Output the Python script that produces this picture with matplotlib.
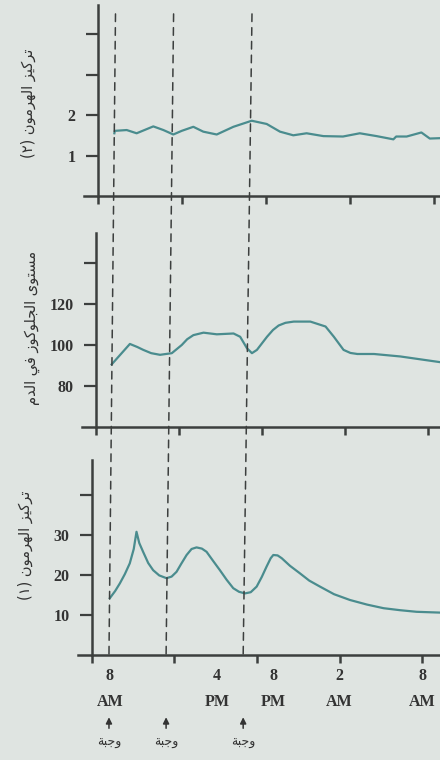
import matplotlib
matplotlib.use('Agg')
import matplotlib.pyplot as plt
from matplotlib.patches import ConnectionPatch

# === Data (hours after 8 AM) ===
h2_x = [1.17, 1.2, 2.05, 2.76, 3.95, 4.67, 5.38, 5.98, 6.81, 7.52, 8.48, 9.67, 10.98,
        12.05, 13.0, 13.95, 14.9, 16.1, 17.5, 18.7, 19.9, 21.1, 21.3, 22.05, 23.1, 23.7, 24.5]
h2_y = [1.55, 1.61, 1.63, 1.55, 1.72, 1.63, 1.52, 1.61, 1.71, 1.59, 1.52, 1.71, 1.86,
        1.78, 1.59, 1.50, 1.55, 1.48, 1.47, 1.55, 1.48, 1.40, 1.47, 1.47, 1.57, 1.42, 1.43]

glu_x = [1.14, 2.46, 3.0, 3.43, 4.0, 4.64, 5.49, 6.21, 6.6, 7.05, 7.78, 8.74, 9.95, 10.43,
         10.92, 11.28, 11.64, 12.37, 12.8, 13.21, 13.7, 14.3, 15.5, 16.6, 17.2, 17.9, 18.4,
         18.9, 20.1, 22.0, 24.9]
glu_y = [90.5, 100.5, 99.0, 97.6, 96.0, 95.2, 96.0, 100.0, 102.8, 104.8, 106.0, 105.2, 105.6,
         104.0, 98.4, 96.0, 97.6, 104.0, 107.3, 109.5, 110.8, 111.4, 111.4, 109.0, 104.0, 97.6,
         96.1, 95.6, 95.6, 94.4, 91.6]

h1_x = [1.31, 1.7, 2.04, 2.4, 2.76, 3.05, 3.25, 3.45, 3.73, 4.1, 4.46, 4.9, 5.43, 5.8, 6.16,
        6.5, 6.89, 7.25, 7.61, 8.0, 8.34, 8.8, 9.31, 9.8, 10.28, 10.7, 11.13, 11.55, 11.98,
        12.35, 12.7, 13.0, 13.19, 13.5, 13.8, 14.4, 15.13, 15.8, 16.58, 17.6, 18.76, 20.0,
        21.2, 22.4, 23.6, 25.3]
h1_y = [14.2, 16.0, 17.9, 20.2, 22.9, 26.5, 30.8, 28.0, 25.8, 23.0, 21.2, 19.9, 19.2, 19.6,
        20.8, 22.8, 25.0, 26.5, 26.9, 26.6, 25.8, 23.6, 21.2, 18.8, 16.7, 15.8, 15.4, 15.7,
        17.1, 19.5, 22.1, 24.2, 25.0, 24.9, 24.2, 22.3, 20.4, 18.6, 17.1, 15.2, 13.75, 12.6,
        11.7, 11.2, 10.8, 10.6]

meals = [1.25, 5.4, 11.0]
time_ticks = [0, 6, 12, 18, 24]
time_label_pos = [1.3, 9.1, 13.2, 18.0, 24.0]
time_labels = ['8\nAM', '4\nPM', '8\nPM', '2\nAM', '8\nAM']

# --- minimal Arabic shaping (matplotlib has no shaping / bidi) ---
FORMS = {
    'ا': (0xFE8D, 0xFE8E), 'ب': (0xFE8F, 0xFE90, 0xFE91, 0xFE92), 'ة': (0xFE93, 0xFE94),
    'ت': (0xFE95, 0xFE96, 0xFE97, 0xFE98), 'ج': (0xFE9D, 0xFE9E, 0xFE9F, 0xFEA0),
    'د': (0xFEA9, 0xFEAA), 'ر': (0xFEAD, 0xFEAE), 'ز': (0xFEAF, 0xFEB0),
    'س': (0xFEB1, 0xFEB2, 0xFEB3, 0xFEB4), 'ف': (0xFED1, 0xFED2, 0xFED3, 0xFED4),
    'ك': (0xFED9, 0xFEDA, 0xFEDB, 0xFEDC), 'ل': (0xFEDD, 0xFEDE, 0xFEDF, 0xFEE0),
    'م': (0xFEE1, 0xFEE2, 0xFEE3, 0xFEE4), 'ن': (0xFEE5, 0xFEE6, 0xFEE7, 0xFEE8),
    'ه': (0xFEE9, 0xFEEA, 0xFEEB, 0xFEEC), 'و': (0xFEED, 0xFEEE),
    'ى': (0xFEEF, 0xFEF0, 0xFBE8, 0xFBE9), 'ي': (0xFEF1, 0xFEF2, 0xFEF3, 0xFEF4),
}


def ar(text):
    out = []
    for i, c in enumerate(text):
        if c not in FORMS:
            out.append(c)
            continue
        prev = text[i - 1] if i > 0 else ''
        nxt = text[i + 1] if i + 1 < len(text) else ''
        jp = prev in FORMS and len(FORMS[prev]) == 4
        jn = nxt in FORMS and len(FORMS[c]) == 4
        f = FORMS[c]
        if jp and jn:
            out.append(chr(f[3]))
        elif jp:
            out.append(chr(f[1]))
        elif jn:
            out.append(chr(f[2]))
        else:
            out.append(chr(f[0]))
    s = ''.join(reversed(out))
    return s.replace('(', '\0').replace(')', '(').replace('\0', ')')


bg = '#dfe4e1'
curve_c = '#4a8c8e'
axis_c = '#3c3f3e'
tick_font = dict(family='Liberation Serif', weight='bold', size=11.5, color='#333')

fig = plt.figure(figsize=(4.4, 7.6), dpi=100, facecolor=bg)
W, H = 440, 760

ax_top = fig.add_axes([84 / W, (H - 196) / H, 356 / W, 191 / H])
ax_mid = fig.add_axes([82 / W, (H - 427) / H, 358 / W, 194 / H])
ax_bot = fig.add_axes([78 / W, (H - 655) / H, 362 / W, 195 / H])

ax_top.plot(h2_x, h2_y, color=curve_c, lw=1.6)
ax_top.set_xlim(-1, 24.43)
ax_top.set_ylim(0, 4.72)
ax_top.set_yticks([1, 2, 3, 4])
ax_top.set_yticklabels(['1', '2', '', ''])

ax_mid.plot(glu_x, glu_y, color=curve_c, lw=1.6)
ax_mid.set_xlim(-1, 24.87)
ax_mid.set_ylim(60, 154.6)
ax_mid.set_yticks([80, 100, 120, 140])
ax_mid.set_yticklabels(['80', '100', '120', ''])

ax_bot.plot(h1_x, h1_y, color=curve_c, lw=1.6)
ax_bot.set_xlim(-1, 25.3)
ax_bot.set_ylim(0, 48.75)
ax_bot.set_yticks([10, 20, 30, 40])
ax_bot.set_yticklabels(['10', '20', '30', ''])

for ax in (ax_top, ax_mid, ax_bot):
    ax.set_facecolor('none')
    for s in ('top', 'right'):
        ax.spines[s].set_visible(False)
    ax.spines['left'].set_position(('data', 0))
    ax.spines['left'].set_color(axis_c)
    ax.spines['bottom'].set_color(axis_c)
    ax.spines['left'].set_linewidth(1.8)
    ax.spines['bottom'].set_linewidth(1.8)
    ax.set_xticks(time_ticks)
    ax.set_xticklabels([])
    ax.tick_params(axis='x', direction='out', length=6, width=1.8, color=axis_c)
    ax.tick_params(axis='y', direction='out', length=9, width=1.6, color=axis_c, pad=7)
    for lab in ax.get_yticklabels():
        lab.set(**tick_font)

ax_bot.xaxis.remove_overlapping_locs = False
ax_bot.set_xticks(time_label_pos, minor=True)
ax_bot.set_xticklabels(time_labels, minor=True, linespacing=1.9, **tick_font)
ax_bot.tick_params(axis='x', which='minor', length=0, pad=9)

# dashed meal lines through all three panels
for m in meals:
    con = ConnectionPatch(xyA=(m, 4.5), coordsA=ax_top.transData,
                          xyB=(m, 0), coordsB=ax_bot.transData,
                          color=axis_c, lw=1.1, linestyle=(0, (5, 4)))
    fig.add_artist(con)
    ax_bot.annotate('', xy=(m, -0.305), xytext=(m, -0.39),
                    xycoords=('data', 'axes fraction'), textcoords=('data', 'axes fraction'),
                    arrowprops=dict(arrowstyle='-|>', color='#333', lw=1.1, mutation_scale=9),
                    annotation_clip=False)
    ax_bot.text(m, -0.45, ar('وجبة'), transform=ax_bot.get_xaxis_transform(),
                ha='center', va='center', fontsize=9, family=['DejaVu Sans'], color='#333')

lab_font = dict(rotation=90, ha='center', va='center', fontsize=10.5,
                family=['DejaVu Sans'], color='#333')
fig.text(28 / W, 1 - 103 / H, ar('تركيز الهرمون (٢)'), **lab_font)
fig.text(32 / W, 1 - 328 / H, ar('مستوى الجلوكوز في الدم'), **lab_font)
fig.text(25 / W, 1 - 545 / H, ar('تركيز الهرمون (١)'), **lab_font)

fig.savefig('out.png', dpi=100, facecolor=bg)
